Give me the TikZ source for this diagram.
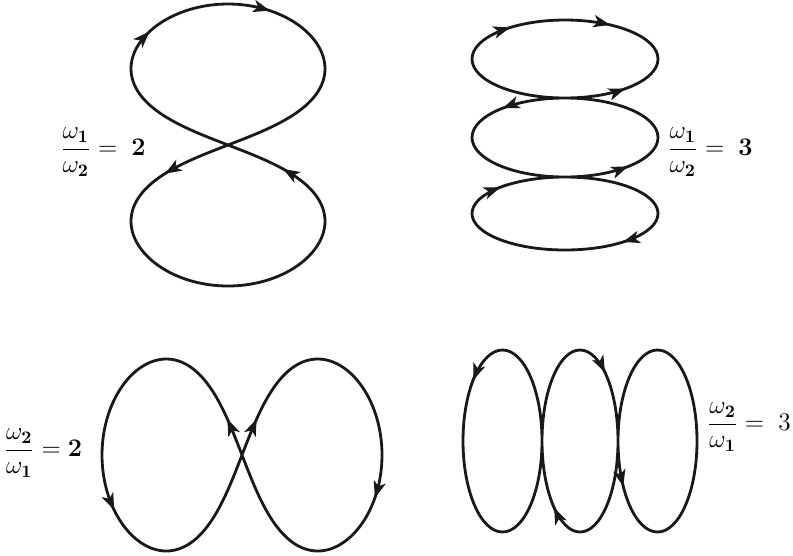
\documentclass[tikz,border=0pt]{standalone}
\usepackage{amsmath}
\usetikzlibrary{arrows.meta}

\begin{document}
\begin{tikzpicture}[
  x=0.02cm, y=-0.02cm,
  curve/.style={line width=1.6pt, black!90, line join=round},
  tip/.style={line width=1.6pt, black!90, -{Stealth[length=9.5pt, width=7pt, inset=2.5pt]}},
  ratio/.style={font=\fontsize{14}{16}\selectfont, inner sep=0pt},
  declare function={f(\u)=0.53*\u+0.47*\u^3;},
]
\useasboundingbox (0,0) rectangle (793,555);

% ---- figure eights (t in degrees) ----
\def\traceA#1{plot[#1, variable=\t] ({228-97*sin(2*\t)},{145-141*f(sin(\t))})}
\def\traceC#1{plot[#1, variable=\t] ({242+140*f(sin(\t))},{455-96*sin(2*\t)})}

\draw[curve] \traceA{domain=0:360, samples=241, smooth} -- cycle;
\draw[curve] \traceC{domain=0:360, samples=241, smooth} -- cycle;

\foreach \a/\b in {60/63, 99.8/102.8, 197.3/200.3, 339.7/342.7}
  \draw[tip] \traceA{domain=\a:\b, samples=2};
\foreach \a/\b in {188/191, 8/11, 284.5/287.5, 100.3/103.3}
  \draw[tip] \traceC{domain=\a:\b, samples=2};

% ---- three stacked loops (top right) ----
\draw[curve] (565,20)
  arc[start angle=-90, end angle=90,   x radius=93, y radius=39]
  arc[start angle=-90, end angle=-270, x radius=93, y radius=39.5]
  arc[start angle=-90, end angle=90,   x radius=93, y radius=36.5]
  arc[start angle=90,  end angle=270,  x radius=93, y radius=36.5]
  arc[start angle=90,  end angle=-90,  x radius=93, y radius=39.5]
  arc[start angle=90,  end angle=270,  x radius=93, y radius=39] -- cycle;

\foreach \cy/\ry/\a/\b in {59/39/228.8/233.8, 59/39/-66/-61, 59/39/54.8/49.8,
                           137.5/39.5/-127/-132, 137.5/39.5/52.4/47.4,
                           213.5/36.5/221/226, 213.5/36.5/46.4/51.4}
  \draw[tip] (565,\cy) ++({93*cos(\a)},{\ry*sin(\a)})
    arc[start angle=\a, end angle=\b, x radius=93, y radius=\ry];

% ---- three loops side by side (bottom right) ----
\draw[curve] (463,441)
  arc[start angle=180, end angle=0,    x radius=39.5, y radius=91]
  arc[start angle=180, end angle=360,  x radius=38,   y radius=91]
  arc[start angle=180, end angle=0,    x radius=39.5, y radius=91]
  arc[start angle=0,   end angle=-180, x radius=39.5, y radius=91]
  arc[start angle=0,   end angle=180,  x radius=38,   y radius=91]
  arc[start angle=0,   end angle=-180, x radius=39.5, y radius=91] -- cycle;

\foreach \cx/\rx/\a/\b in {502.5/39.5/-133/-138, 580/38/306/311,
                           657.5/39.5/155/150, 580/38/128/133}
  \draw[tip] (\cx,441) ++({\rx*cos(\a)},{91*sin(\a)})
    arc[start angle=\a, end angle=\b, x radius=\rx, y radius=91];

% ---- frequency ratios ----
\node[ratio] (ratioA) at (103,152) {$\dfrac{\omega_{\mathbf 1}}{\omega_{\mathbf 2}} =\; \mathbf{2}$};
\node[ratio] (ratioB) at (710,152) {$\dfrac{\omega_{\mathbf 1}}{\omega_{\mathbf 2}} =\; \mathbf{3}$};
\node[ratio] (ratioC) at (43,453)  {$\dfrac{\omega_{\mathbf 2}}{\omega_{\mathbf 1}} = \mathbf{2}$};
\node[ratio] (ratioD) at (749,427) {$\dfrac{\omega_{\mathbf 2}}{\omega_{\mathbf 1}} =\; 3$};
\end{tikzpicture}
\end{document}
